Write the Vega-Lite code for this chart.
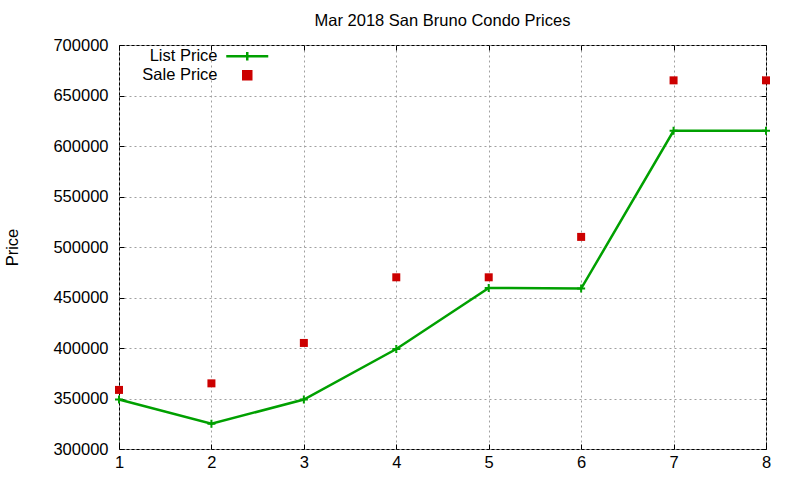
{
  "$schema": "https://vega.github.io/schema/vega-lite/v6.json",
  "width": 647,
  "height": 404,
  "autosize": "none",
  "padding": {"left": 119, "top": 45, "right": 34, "bottom": 31},
  "background": "white",
  "title": {
    "text": "Mar 2018 San Bruno Condo Prices",
    "font": "Liberation Sans",
    "fontSize": 16.5,
    "fontWeight": "normal",
    "color": "black",
    "anchor": "middle",
    "offset": 8
  },
  "data": {
    "values": [
      {"x": 1, "series": "List Price", "price": 349000},
      {"x": 2, "series": "List Price", "price": 325000},
      {"x": 3, "series": "List Price", "price": 349000},
      {"x": 4, "series": "List Price", "price": 399000},
      {"x": 5, "series": "List Price", "price": 459500},
      {"x": 6, "series": "List Price", "price": 458800},
      {"x": 7, "series": "List Price", "price": 615000},
      {"x": 8, "series": "List Price", "price": 615000},
      {"x": 1, "series": "Sale Price", "price": 358500},
      {"x": 2, "series": "Sale Price", "price": 365000},
      {"x": 3, "series": "Sale Price", "price": 405000},
      {"x": 4, "series": "Sale Price", "price": 470000},
      {"x": 5, "series": "Sale Price", "price": 470000},
      {"x": 6, "series": "Sale Price", "price": 510000},
      {"x": 7, "series": "Sale Price", "price": 665000},
      {"x": 8, "series": "Sale Price", "price": 665000}
    ]
  },
  "layer": [
    {
      "transform": [{"filter": "datum.series === 'List Price'"}],
      "mark": {
        "type": "line",
        "strokeWidth": 2.5,
        "point": {"shape": "M-1,0H1M0,-1V1", "filled": false, "size": 64, "strokeWidth": 2}
      },
      "encoding": {
        "x": {
          "field": "x",
          "type": "quantitative",
          "scale": {"domain": [1, 8], "nice": false, "zero": false},
          "axis": {
            "orient": "bottom",
            "title": null,
            "values": [1, 2, 3, 4, 5, 6, 7, 8],
            "format": "d",
            "grid": true,
            "tickSize": -5,
            "labelPadding": 10,
            "labelFlush": false
          }
        },
        "y": {
          "field": "price",
          "type": "quantitative",
          "scale": {"domain": [300000, 700000], "nice": false, "zero": false},
          "axis": {
            "orient": "left",
            "title": "Price",
            "titlePadding": 32,
            "values": [300000, 350000, 400000, 450000, 500000, 550000, 600000, 650000, 700000],
            "format": "d",
            "grid": true,
            "tickSize": -5,
            "labelPadding": 16,
            "labelFlush": false
          }
        },
        "color": {
          "field": "series",
          "type": "nominal",
          "scale": {"domain": ["List Price", "Sale Price"], "range": ["#00a000", "#cc0000"]},
          "legend": {
            "orient": "none",
            "legendX": 120,
            "legendY": 3,
            "title": null,
            "padding": 0,
            "symbolSize": 64,
            "labelAlign": "right",
            "labelOffset": -38,
            "rowPadding": 0,
            "encode": {
              "symbols": {
                "update": {
                  "shape": {"signal": "datum.value === 'List Price' ? 'M-1,0H1M0,-0.2V0.2' : 'square'"},
                  "size": {"signal": "datum.value === 'List Price' ? 1764 : 64"},
                  "fill": {"signal": "datum.value === 'List Price' ? 'transparent' : '#cc0000'"},
                  "stroke": {"signal": "datum.value === 'List Price' ? '#00a000' : 'transparent'"},
                  "strokeWidth": {"value": 2.5},
                  "opacity": {"value": 1}
                }
              }
            }
          }
        }
      }
    },
    {
      "transform": [{"filter": "datum.series === 'Sale Price'"}],
      "mark": {"type": "point", "shape": "square", "filled": true, "size": 64, "opacity": 1},
      "encoding": {
        "x": {
          "field": "x",
          "type": "quantitative",
          "axis": {
            "orient": "top",
            "title": null,
            "values": [1, 2, 3, 4, 5, 6, 7, 8],
            "labels": false,
            "grid": false,
            "tickSize": -5
          }
        },
        "y": {
          "field": "price",
          "type": "quantitative",
          "axis": {
            "orient": "right",
            "title": null,
            "values": [300000, 350000, 400000, 450000, 500000, 550000, 600000, 650000, 700000],
            "labels": false,
            "grid": false,
            "tickSize": -5
          }
        },
        "color": {
          "field": "series",
          "type": "nominal",
          "legend": null
        }
      }
    }
  ],
  "resolve": {"axis": {"x": "independent", "y": "independent"}},
  "config": {
    "font": "Liberation Sans",
    "view": {"stroke": "black", "strokeWidth": 1},
    "axis": {
      "domain": false,
      "tickColor": "black",
      "tickWidth": 1,
      "gridColor": "#a0a0a0",
      "gridDash": [2, 3],
      "gridOpacity": 1,
      "gridWidth": 1,
      "labelFont": "Liberation Sans",
      "labelFontSize": 16.5,
      "labelColor": "black",
      "titleFont": "Liberation Sans",
      "titleFontSize": 16.5,
      "titleFontWeight": "normal",
      "titleColor": "black"
    },
    "legend": {
      "labelFont": "Liberation Sans",
      "labelFontSize": 16.5,
      "labelColor": "black",
      "labelLimit": 0
    }
  }
}
